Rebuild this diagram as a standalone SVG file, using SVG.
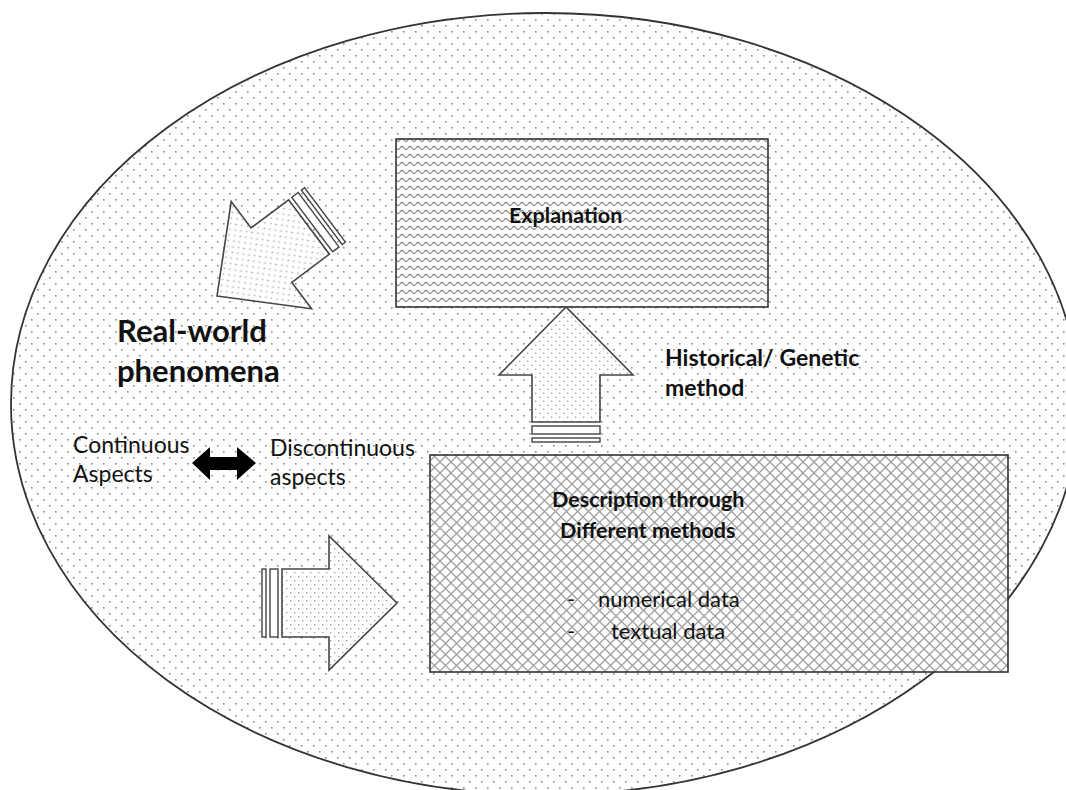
<svg xmlns="http://www.w3.org/2000/svg" xmlns:xlink="http://www.w3.org/1999/xlink" width="1066" height="790" viewBox="0 0 1066 790">
  <style>
    .txt { font-family: Lato, "Open Sans", sans-serif; fill: #111; }
    .b { font-weight: bold; }
    .box { stroke: #333; stroke-width: 1.6; }
    .arrow { fill: url(#fineDots); stroke: #444; stroke-width: 1.6; stroke-linejoin: miter; }
    .stripe { fill: #fff; stroke: #444; stroke-width: 1.4; }
  </style>
  <defs>
    <!-- sparse staggered dots for the background ellipse -->
    <pattern id="dots" width="12" height="12" patternUnits="userSpaceOnUse">
      <rect width="12" height="12" fill="#fff"/>
      <rect x="1" y="1" width="1.6" height="1.6" fill="#8a8a8a"/>
      <rect x="7" y="7" width="1.6" height="1.6" fill="#8a8a8a"/>
    </pattern>
    <!-- denser dots for the block arrows -->
    <pattern id="fineDots" width="8" height="8" patternUnits="userSpaceOnUse">
      <rect width="8" height="8" fill="#fff"/>
      <rect x="1" y="1" width="1.3" height="1.3" fill="#9a9a9a"/>
      <rect x="5" y="5" width="1.3" height="1.3" fill="#9a9a9a"/>
    </pattern>
    <!-- wave hatch -->
    <pattern id="waves" width="8" height="8" patternUnits="userSpaceOnUse">
      <rect width="8" height="8" fill="#fff"/>
      <path d="M0,4 Q2,1 4,4 T8,4" fill="none" stroke="#8a8a8a" stroke-width="1.3"/>
    </pattern>
    <!-- diagonal lattice -->
    <pattern id="lattice" width="11" height="11" patternUnits="userSpaceOnUse">
      <rect width="11" height="11" fill="#fff"/>
      <path d="M0,0 L11,11 M11,0 L0,11" fill="none" stroke="#a0a0a0" stroke-width="1.3"/>
    </pattern>
    <!-- block arrow, tip at origin pointing +x, with two end stripes -->
    <g id="blockArrow">
      <polygon class="arrow" points="0,0 -68,-67 -68,-34 -115,-34 -115,34 -68,34 -68,67"/>
      <rect class="stripe" x="-127" y="-34" width="8" height="68"/>
      <rect class="stripe" x="-135" y="-34" width="4" height="68"/>
    </g>
  </defs>

  <g id="background">
    <ellipse cx="545" cy="404" rx="534" ry="391" fill="url(#dots)" stroke="#333" stroke-width="1.8"/>
  </g>

  <g id="explanation">
    <rect class="box" x="396" y="139" width="372" height="168" fill="url(#waves)"/>
    <text class="txt b" x="509" y="223" font-size="21.5">Explanation</text>
  </g>

  <g id="description">
    <rect class="box" x="430" y="455" width="578" height="217" fill="url(#lattice)"/>
    <text class="txt b" x="552" y="507" font-size="21.5">Description through</text>
    <text class="txt b" x="560" y="538" font-size="21.5">Different methods</text>
    <text class="txt" x="567" y="607" font-size="22">-</text>
    <text class="txt" x="598" y="607" font-size="22">numerical data</text>
    <text class="txt" x="567" y="639" font-size="22">-</text>
    <text class="txt" x="611" y="639" font-size="22">textual data</text>
  </g>

  <g id="phenomena">
    <text class="txt b" x="117" y="342" font-size="31">Real-world</text>
    <text class="txt b" x="117" y="382" font-size="31">phenomena</text>
    <text class="txt" x="73" y="453" font-size="23">Continuous</text>
    <text class="txt" x="73" y="482" font-size="23">Aspects</text>
    <text class="txt" x="270" y="456" font-size="23">Discontinuous</text>
    <text class="txt" x="270" y="485" font-size="23">aspects</text>
  </g>

  <g id="method-label">
    <text class="txt b" x="665" y="366" font-size="23">Historical/ Genetic</text>
    <text class="txt b" x="665" y="396" font-size="23">method</text>
  </g>

  <g id="connectors">
    <use xlink:href="#blockArrow" href="#blockArrow" transform="translate(397,603)"/>
    <use xlink:href="#blockArrow" href="#blockArrow" transform="translate(566,307) rotate(-90)"/>
    <use xlink:href="#blockArrow" href="#blockArrow" transform="translate(217,296) rotate(143.13)"/>
    <polygon points="192,463 210,447 210,457 237,457 237,447 256,463 237,480 237,470 210,470 210,480" fill="#000"/>
  </g>
</svg>
